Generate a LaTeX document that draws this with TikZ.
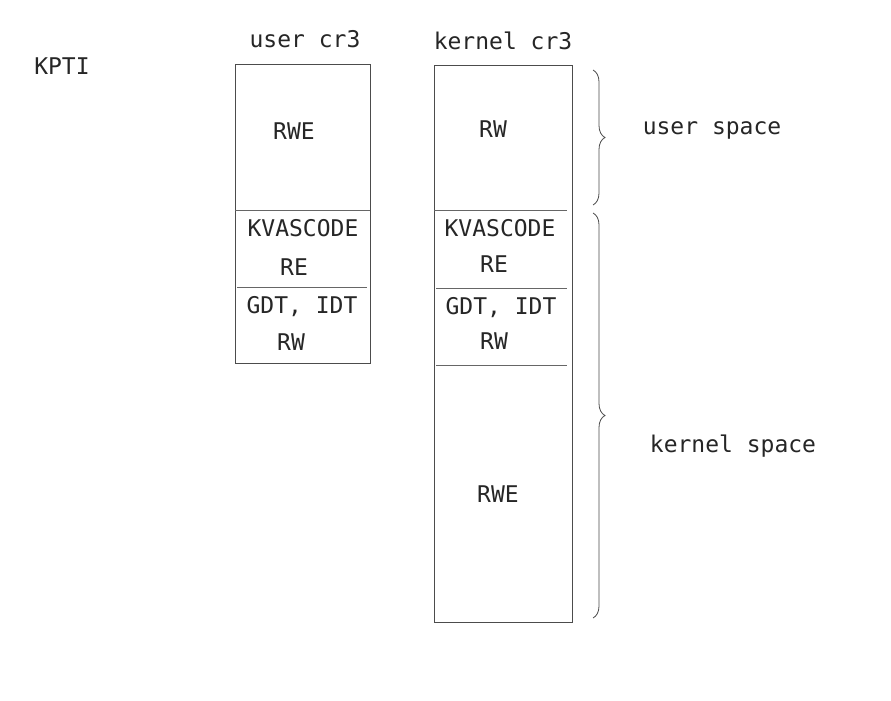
\documentclass[tikz,border=0pt]{standalone}
\usepackage{fontspec}
\setmonofont{DejaVu Sans Mono}
\usetikzlibrary{decorations.pathreplacing}
\begin{document}
\begin{tikzpicture}[x=1pt,y=-1pt,
  txt/.style={font=\ttfamily\fontsize{23}{26}\selectfont,inner sep=0pt,text=black!85},
  box/.style={draw=black!70,line width=0.8pt},
  sep/.style={draw=black!60,line width=0.8pt},
  br/.style={draw=black!70,line width=0.8pt,decorate,decoration={brace,amplitude=12pt}}]
\useasboundingbox[fill=white] (0,0) rectangle (891,701);
\node[txt] (kpti) at (62,66) {KPTI};
\node[txt] (ucr) at (305,39) {user cr3};
\node[txt] (kcr) at (503,41) {kernel cr3};
\node[txt] (us) at (712,130) {user space};
\node[txt] (ks) at (733,446) {kernel space};
% user cr3 column
\draw[box] (235,64) rectangle (370,363);
\draw[sep] (235,210) -- (370,210);
\draw[sep] (237,287) -- (367,287);
\node[txt] (u1) at (294,131) {RWE};
\node[txt] (u2) at (303,228) {KVASCODE};
\node[txt] (u3) at (294,267) {RE};
\node[txt] (u4) at (302,307) {GDT, IDT};
\node[txt] (u5) at (291,342) {RW};
% kernel cr3 column
\draw[box] (434,65) rectangle (572,622);
\draw[sep] (434,210) -- (567,210);
\draw[sep] (436,288) -- (567,288);
\draw[sep] (436,365) -- (567,365);
\node[txt] (k1) at (493,129) {RW};
\node[txt] (k2) at (500,228) {KVASCODE};
\node[txt] (k3) at (494,264) {RE};
\node[txt] (k4) at (501,308) {GDT, IDT};
\node[txt] (k5) at (494,341) {RW};
\node[txt] (k6) at (498,494) {RWE};
% braces
\coordinate (b1a) at (593,70);
\coordinate (b1b) at (593,205);
\coordinate (b2a) at (593,213);
\coordinate (b2b) at (593,618);
\draw[br] (b1a) -- (b1b);
\draw[br] (b2a) -- (b2b);
\end{tikzpicture}
\end{document}
